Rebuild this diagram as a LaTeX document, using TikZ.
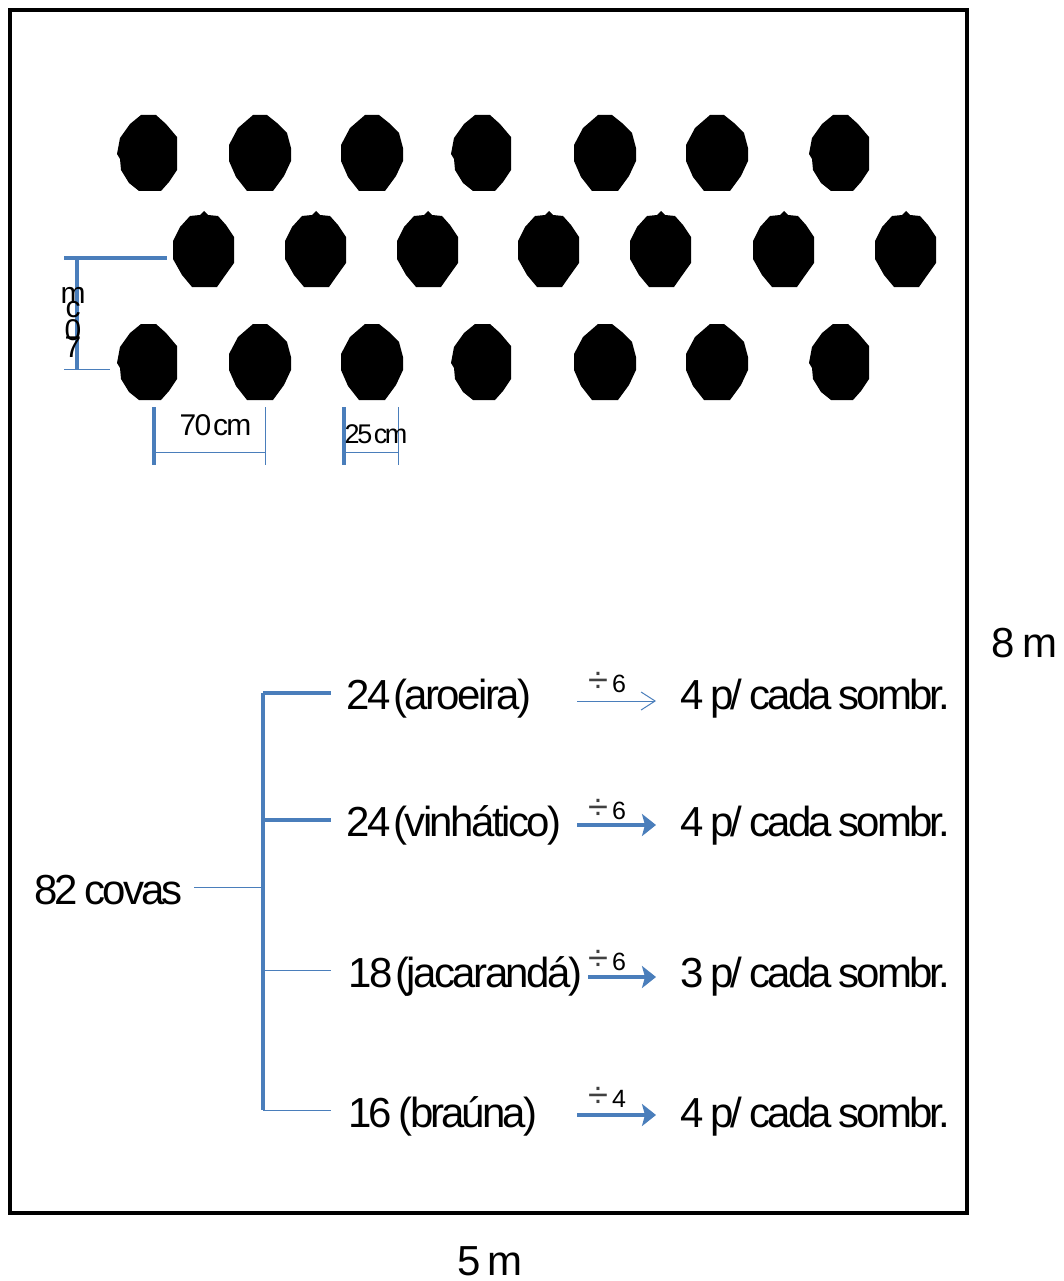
\documentclass[tikz,border=0pt]{standalone}
\usepackage{fontspec}
\setmainfont{Liberation Sans}
\newfontfamily\tightfont[LetterSpace=-7,WordSpace=0.8]{Liberation Sans}
\newfontfamily\loosefont[LetterSpace=-6,WordSpace=1.0]{Liberation Sans}
\newfontfamily\dimfont[LetterSpace=-6,WordSpace=0.3]{Liberation Sans}
\newfontfamily\dimtightfont[LetterSpace=-9,WordSpace=0.3]{Liberation Sans}
\definecolor{lineblue}{HTML}{4A7EBB}
\definecolor{divgrey}{HTML}{404040}
\usetikzlibrary{arrows.meta}
\tikzset{
  frame/.style={draw=black,line width=4pt},
  heavy/.style={draw=lineblue,line width=4.5pt},
  light/.style={draw=lineblue,line width=1pt},
  heavyarrow/.style={draw=lineblue,line width=4pt,-{Stealth[length=14pt,width=22pt,inset=3pt]}},
  lightarrow/.style={draw=lineblue,line width=1pt,-{Straight Barb[length=14pt,width=18pt]}},
  bigtext/.style={inner sep=0pt,font=\fontsize{42}{42}\selectfont\tightfont},
  looseb/.style={inner sep=0pt,font=\fontsize{42}{42}\selectfont\loosefont},
  smalldim/.style={inner sep=0pt,font=\fontsize{30}{30}\selectfont\dimfont},
  divtext/.style={inner sep=0pt,font=\fontsize{25}{25}\selectfont},
  flatblob/.pic={\fill[black] (-7,-38)--(8,-38)--(18,-29)--(29,-16)--(29,17)--(21,29)--(13,38)--(-9,38)--(-19,30)--(-27,17)--(-28,6)--(-31,1)--(-28,-15)--(-18,-29)--cycle;},
  roundblob/.pic={\fill[black] (-7,-38)--(7,-38)--(17,-30)--(27,-20)--(31,-5)--(31,8)--(24,23)--(13,38)--(-13,38)--(-24,24)--(-31,8)--(-31,-8)--(-22,-25)--cycle;},
  peakblob/.pic={\fill[black] (-14,-33)--(-4,-34)--(0,-38)--(4,-34)--(14,-33)--(22,-24)--(30,-12)--(30,14)--(20,28)--(13,38)--(-12,38)--(-22,26)--(-31,10)--(-31,-8)--(-24,-22)--cycle;},
}
\newcommand{\divsign}{{\color{divgrey}\scalebox{1.45}{÷}}}
\begin{document}
\begin{tikzpicture}[x=1pt,y=-1pt]
\useasboundingbox (0,0) rectangle (1064,1281);
\fill[white] (0,0) rectangle (1064,1281);
\draw[frame] (10,10) rectangle (967,1213);
% plant holes
\foreach \x in {148,482,840}{
  \pic at (\x,153) {flatblob};
  \pic at (\x,362) {flatblob};
}
\foreach \x in {260,372,605,717}{
  \pic at (\x,153) {roundblob};
  \pic at (\x,362) {roundblob};
}
\foreach \x in {204,316,428,549,661,784,906}{
  \pic at (\x,249) {peakblob};
}
% spacing dimensions
\coordinate (vt) at (77,258);
\coordinate (vtl) at (64,258);
\coordinate (vtr) at (167,258);
\coordinate (vb) at (77,369);
\coordinate (vbl) at (64,369);
\coordinate (vbr) at (110,369);
\draw[heavy] (vtl) -- (vtr);
\draw[heavy,line width=4pt] (vt) -- (vb);
\draw[light] (vbl) -- (vbr);
\lineskiplimit=-100pt
\node[inner sep=0pt,anchor=north,align=center,font=\fontsize{30}{14}\selectfont] (vlabel) at (73,287.5)
  {m\\c\\[9pt]0\\[3pt]7};
\coordinate (a1) at (154,407);
\coordinate (a2) at (154,465);
\coordinate (a3) at (265,407);
\coordinate (a4) at (265,465);
\coordinate (a5) at (154,452);
\coordinate (a6) at (265,452);
\draw[heavy,line width=4pt] (a1) -- (a2);
\draw[light] (a3) -- (a4);
\draw[light] (a5) -- (a6);
\node[smalldim] (l70) at (215.5,425) {70 cm};
\coordinate (b1) at (344,407);
\coordinate (b2) at (344,465);
\coordinate (b3) at (398,407);
\coordinate (b4) at (398,465);
\coordinate (b5) at (344,452);
\coordinate (b6) at (398,452);
\draw[heavy,line width=4pt] (b1) -- (b2);
\draw[light] (b3) -- (b4);
\draw[light] (b5) -- (b6);
\node[inner sep=0pt,font=\fontsize{27}{27}\selectfont\dimtightfont] (l25) at (376,434) {25 cm};
% tree
\node[bigtext] (root) at (108.5,890) {82 covas};
\coordinate (rootout) at (194,887);
\coordinate (tj) at (263,887);
\coordinate (t1) at (263,693);
\coordinate (t2) at (263,820);
\coordinate (t3) at (263,970);
\coordinate (t4) at (263,1110);
\coordinate (e1) at (331,693);
\coordinate (e2) at (331,820);
\coordinate (e3) at (331,970);
\coordinate (e4) at (331,1110);
\draw[light] (rootout) -- (tj);
\draw[heavy,line width=4pt] (t1) -- (t4);
\draw[heavy] (t1) -- (e1);
\draw[heavy] (t2) -- (e2);
\draw[light] (t3) -- (e3);
\draw[light] (t4) -- (e4);
\node[looseb,anchor=base west] (s1) at (346,709) {24 (aroeira)};
\node[looseb,anchor=base west] (s2) at (346,836) {24 (vinhático)};
\node[looseb,anchor=base west] (s3) at (348,987) {18 (jacarandá)};
\node[bigtext,anchor=base west] (s4) at (348,1127) {16 (braúna)};
\node[bigtext,anchor=base west] (r1) at (680,709) {4 p/ cada sombr.};
\node[bigtext,anchor=base west] (r2) at (680,836) {4 p/ cada sombr.};
\node[bigtext,anchor=base west] (r3) at (680,987) {3 p/ cada sombr.};
\node[bigtext,anchor=base west] (r4) at (680,1127) {4 p/ cada sombr.};
\coordinate (p1) at (577,701); \coordinate (q1) at (656,701);
\coordinate (p2) at (577,825); \coordinate (q2) at (656,825);
\coordinate (p3) at (588,977); \coordinate (q3) at (656,977);
\coordinate (p4) at (577,1115); \coordinate (q4) at (656,1115);
\draw[lightarrow] (p1) -- (q1);
\draw[heavyarrow] (p2) -- (q2);
\draw[heavyarrow] (p3) -- (q3);
\draw[heavyarrow] (p4) -- (q4);
\node[divtext] (d1) at (607,683) {\divsign\,6};
\node[divtext] (d2) at (607,810) {\divsign\,6};
\node[divtext] (d3) at (607,961) {\divsign\,6};
\node[divtext] (d4) at (607,1097) {\divsign\,4};
% overall size
\node[bigtext] (h8) at (1024.5,643) {8 m};
\node[bigtext] (w5) at (490,1261) {5 m};
\end{tikzpicture}
\end{document}
